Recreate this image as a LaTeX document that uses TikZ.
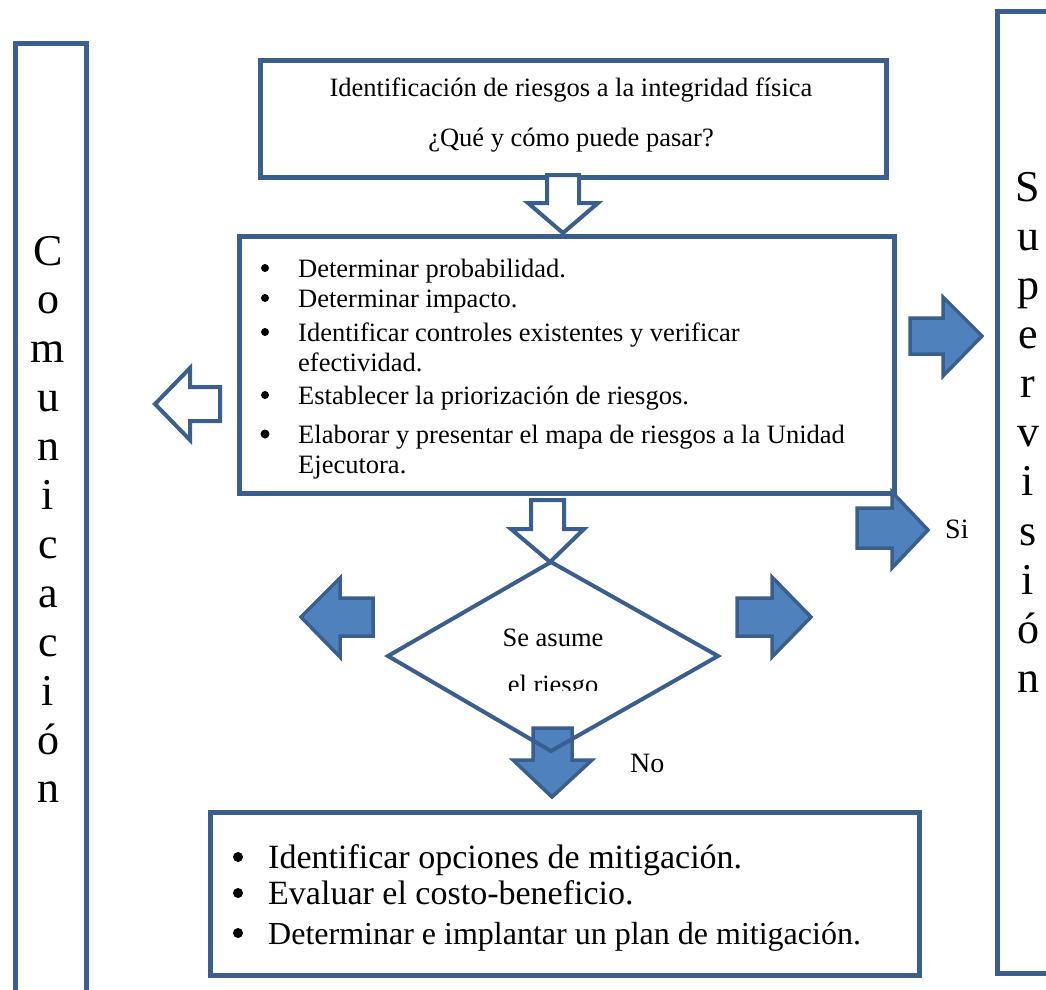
\documentclass[tikz,border=0pt]{standalone}
\usepackage{fontspec}
\setmainfont{Liberation Serif}
\definecolor{edge}{HTML}{3A5F8E}
\definecolor{arrowfill}{HTML}{4F81BD}
\begin{document}
\begin{tikzpicture}[x=1pt,y=-1pt,
  frame/.style={draw=edge, line width=4.5pt, inner sep=0pt, anchor=north west},
  hollow/.style={draw=edge, fill=white, line width=4pt, line join=miter},
  solid/.style={draw=edge, fill=arrowfill, line width=3.5pt, line join=miter},
  txt/.style={inner sep=0pt, font=\fontsize{26.5}{30}\selectfont},
  big/.style={inner sep=0pt, font=\fontsize{#1}{36}\selectfont},
  dot/.style={circle, fill=black, inner sep=0pt, minimum size=#1},
  side/.style={inner sep=0pt, anchor=base, font=\fontsize{44}{49}\selectfont},
  tag/.style={inner sep=0pt, anchor=base west, font=\fontsize{28}{32}\selectfont}]
\useasboundingbox (0,0) rectangle (1046,989);
\clip (0,0) rectangle (1046,989);

% side bands
\node[frame, minimum width=71pt, minimum height=1000pt] (com) at (13,41) {};
\node[frame, minimum width=100pt, minimum height=962pt] (sup) at (995,9) {};
\foreach \l [count=\k from 0] in {C,o,m,u,n,i,c,a,c,i,ó,n}
  \node[side] (com\k) at (48,265+48.9*\k) {\l};
\foreach \l [count=\k from 0] in {S,u,p,e,r,v,i,s,i,ó,n}
  \node[side] (sup\k) at (1028,201+49.15*\k) {\l};

% top box
\node[frame, minimum width=626pt, minimum height=117pt] (ident) at (258,58) {};
\node[txt, anchor=base] (ident1) at (571,96) {Identificación de riesgos a la integridad física};
\node[txt, anchor=base] (ident2) at (571,146) {¿Qué y cómo puede pasar?};

% arrow into analysis box
\draw[hollow] (547,175) -- (547,203) -- (528,203) -- (563,233) -- (598,203) -- (579,203) -- (579,175) -- cycle;

% analysis box
\node[frame, minimum width=655pt, minimum height=257pt] (anal) at (237,234) {};
\foreach \t/\y/\s [count=\k] in {Determinar probabilidad./277/8pt, Determinar impacto./307/8pt,
    Identificar controles existentes y verificar/341/8pt, Establecer la priorización de riesgos./404/8pt,
    Elaborar y presentar el mapa de riesgos a la Unidad/443/9pt}
  {\node[dot=\s] (dot\k) at (265,\y-9) {};
   \node[txt, anchor=base west] (item\k) at (298,\y) {\t};}
\node[txt, anchor=base west] (item3b) at (298,371) {efectividad.};
\node[txt, anchor=base west] (item5b) at (298,473) {Ejecutora.};

% side block arrows
\draw[hollow] (220,387) -- (190,387) -- (190,368) -- (155,404) -- (190,440) -- (190,421) -- (220,421) -- cycle;
\draw[solid] (910,318) -- (943,318) -- (943,297) -- (982,336) -- (943,376) -- (943,354) -- (910,354) -- cycle;
\draw[solid] (857,508) -- (892,508) -- (892,492) -- (928,530) -- (892,568) -- (892,548) -- (857,548) -- cycle;
\node[tag] (si) at (945,538) {Si};

% arrow into decision
\draw[hollow] (531,500) -- (531,529) -- (511,529) -- (550,562) -- (584,529) -- (564,529) -- (564,500) -- cycle;

% decision arrows
\draw[solid] (373,598) -- (340,598) -- (340,578) -- (301,617) -- (340,657) -- (340,636) -- (373,636) -- cycle;
\draw[solid] (737,598) -- (772,598) -- (772,577) -- (811,617) -- (772,657) -- (772,636) -- (737,636) -- cycle;
\draw[solid] (533,728) -- (533,760) -- (513,760) -- (552,797) -- (592,760) -- (572,760) -- (572,728) -- cycle;
\node[tag] (no) at (630,772) {No};

% decision
\draw[edge, line width=4pt, line join=miter] (551,562) coordinate (dtop) -- (718,656) -- (551,751) -- (388,656) -- cycle;
\node[txt, anchor=base] (ask1) at (553,646) {Se asume};
\begin{scope}
  \clip (400,660) rectangle (700,690);
  \node[txt, anchor=base] (ask2) at (553,693) {el riesgo};
\end{scope}

% mitigation box
\node[frame, minimum width=709pt, minimum height=163pt] (mit) at (208,810) {};
\foreach \t/\y/\f [count=\k] in {Identificar opciones de mitigación./868/34, Evaluar el costo-beneficio./904/34,
    Determinar e implantar un plan de mitigación./944/32}
  {\node[dot=10pt] (mdot\k) at (238,\y-11) {};
   \node[big=\f, anchor=base west] (mit\k) at (268,\y) {\t};}
\end{tikzpicture}
\end{document}
